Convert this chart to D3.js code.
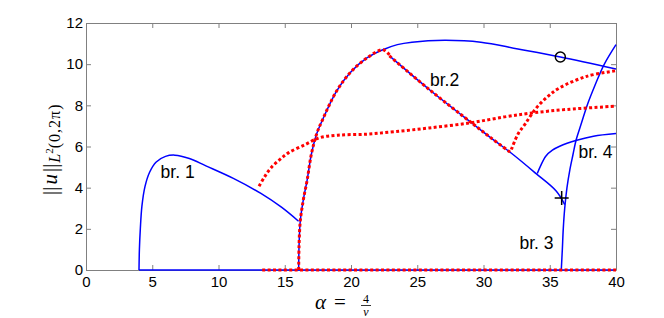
<!DOCTYPE html>
<html>
<head>
<meta charset="utf-8">
<script src="https://cdn.jsdelivr.net/npm/d3@7"></script>
<style>
  body { margin: 0; background: #fff; }
  .graph__axis path, .graph__axis line { stroke: #808080; }
  .graph__axis text { font-family: 'Liberation Sans', Arial, sans-serif; font-size: 15px; fill: #000; }
  .graph__name { font-family: 'Liberation Sans', Arial, sans-serif; font-size: 17.5px; fill: #000; }
  .graph__math { font-family: 'Liberation Serif', 'Times New Roman', serif; fill: #000; }
</style>
</head>
<body>
<div id="graph"></div>
<script>
// axis ticks
const alphaTicks = [0, 5, 10, 15, 20, 25, 30, 35, 40];
const normTicks = [0, 2, 4, 6, 8, 10, 12];

// branches, [alpha, ||u||]
const trivialBlue = [[4, 0], [40, 0]];
const trivialRed = [[13.3, 0], [40, 0]];
const branch1 = [[4.0, 0], [4.03, 1], [4.1, 2], [4.22, 3.1], [4.45, 4.05], [4.8, 4.75], [5.3, 5.25],
  [6.0, 5.52], [6.71, 5.58], [7.8, 5.42], [9.05, 5.06], [11.12, 4.45], [13.2, 3.72], [14.75, 3.05], [16.04, 2.37]];
const branch1Red = [[13.06, 4.07], [13.5, 4.55], [13.97, 4.97], [14.6, 5.35], [15.27, 5.69], [16.56, 6.1],
  [17.6, 6.42], [19.0, 6.55], [21.2, 6.6], [23.3, 6.72], [25.9, 6.9], [29.0, 7.15], [31.6, 7.44],
  [33.67, 7.63], [36.3, 7.8], [40, 7.96]];
const mainArc = [[16.05, 0], [16.08, 1.2], [16.17, 2.37], [16.4, 3.4], [16.7, 4.4], [17.0, 5.6], [17.4, 6.6],
  [17.86, 7.31], [18.9, 8.68], [19.93, 9.58], [21.2, 10.3], [22.4, 10.7], [23.5, 10.95], [24.6, 11.07],
  [27.06, 11.16], [29.8, 11.07], [32.6, 10.74], [35.8, 10.35], [40, 9.77]];
const mainArcRed = [[16.05, 0], [16.08, 1.2], [16.17, 2.37], [16.4, 3.4], [16.7, 4.4], [17.0, 5.6], [17.4, 6.6],
  [17.86, 7.31], [18.9, 8.68], [19.93, 9.58], [21.2, 10.3], [22.4, 10.7], [22.9, 10.45]];
const branch2 = [[22.9, 10.4], [25.9, 8.77], [29.26, 7.07], [30.56, 6.42], [32.25, 5.6], [33.9, 4.72],
  [35.5, 3.83], [36.13, 3.18]];
const branch2Red = [[22.9, 10.4], [25.9, 8.77], [29.26, 7.07], [30.56, 6.42], [32.1, 5.68]];
const branch2RedUp = [[32.1, 5.85], [32.6, 6.6], [33.15, 7.1], [33.9, 7.8], [34.8, 8.4], [35.75, 8.85],
  [37.8, 9.41], [40, 9.68]];
const branch3 = [[35.87, 0], [35.95, 1], [36.02, 2], [36.13, 3], [36.3, 4], [36.52, 4.88], [36.75, 5.6],
  [37.0, 6.34], [37.4, 7.15], [37.8, 7.96], [38.4, 8.95], [39.1, 9.98], [40, 10.95]];
const branch4 = [[34.06, 4.69], [34.3, 5.05], [34.7, 5.53], [35.2, 5.82], [35.75, 6.01], [37.04, 6.3],
  [38.3, 6.5], [40, 6.63]];

// markers and branch names
const circleMark = [35.8, 10.35];
const plusMark = [35.9, 3.5];
const branchNames = ['br. 1', 'br.2', 'br. 3', 'br. 4'];
const branchNameAt = [[5.63, 4.45], [25.96, 8.93], [32.71, 1.04], [37.17, 5.45]];

function visualize() {
  const margins = { top: 23, right: 48, bottom: 48, left: 86 };
  const canvasWidth = 664;
  const canvasHeight = 318;
  const width = canvasWidth - margins.left - margins.right;
  const height = canvasHeight - margins.top - margins.bottom;

  const svg = d3.select('#graph')
    .append('svg')
      .attr('width', canvasWidth)
      .attr('height', canvasHeight)
      .style('display', 'block');

  const graph = svg.append('g')
    .attr('transform', `translate(${margins.left}, ${margins.top})`);

  const scaleX = d3.scaleLinear().domain([0, 40]).range([0, width]);
  const scaleY = d3.scaleLinear().domain([0, 12]).range([height, 0]);

  // box with inward ticks on all four sides
  graph.append('g')
    .attr('class', 'graph__axis')
    .attr('transform', `translate(0, ${height})`)
    .call(d3.axisBottom(scaleX).tickValues(alphaTicks).tickSizeInner(-5).tickSizeOuter(0).tickPadding(6));
  graph.append('g')
    .attr('class', 'graph__axis')
    .call(d3.axisTop(scaleX).tickValues(alphaTicks).tickSizeInner(-5).tickSizeOuter(0).tickFormat(''));
  graph.append('g')
    .attr('class', 'graph__axis')
    .call(d3.axisLeft(scaleY).tickValues(normTicks).tickSizeInner(-5).tickSizeOuter(0).tickPadding(3));
  graph.append('g')
    .attr('class', 'graph__axis')
    .attr('transform', `translate(${width}, 0)`)
    .call(d3.axisRight(scaleY).tickValues(normTicks).tickSizeInner(-5).tickSizeOuter(0).tickFormat(''));

  const line = d3.line()
    .x(d => scaleX(d[0]))
    .y(d => scaleY(d[1]))
    .curve(d3.curveCatmullRom.alpha(0.5));

  // solid blue branches
  [trivialBlue, branch1, mainArc, branch2, branch3, branch4].forEach(pts => {
    graph.append('path')
      .attr('d', line(pts))
      .attr('fill', 'none')
      .attr('stroke', '#0000ff')
      .attr('stroke-width', 1.5);
  });

  // red dotted branches on top
  [trivialRed, branch1Red, mainArcRed, branch2Red, branch2RedUp].forEach(pts => {
    graph.append('path')
      .attr('d', line(pts))
      .attr('fill', 'none')
      .attr('stroke', '#ff0000')
      .attr('stroke-width', 3)
      .attr('stroke-dasharray', '3,2.4');
  });

  // markers
  graph.append('circle')
    .attr('cx', scaleX(circleMark[0]))
    .attr('cy', scaleY(circleMark[1]))
    .attr('r', 5)
    .attr('fill', 'none')
    .attr('stroke', '#000')
    .attr('stroke-width', 1.5);
  const px = scaleX(plusMark[0]);
  const py = scaleY(plusMark[1]);
  graph.append('path')
    .attr('d', `M${px - 7},${py}H${px + 7}M${px},${py - 7}V${py + 7}`)
    .attr('stroke', '#000')
    .attr('stroke-width', 1.5);

  graph.selectAll('.graph__name')
    .data(branchNames)
    .enter()
    .append('text')
      .attr('class', 'graph__name')
      .attr('x', (d, i) => scaleX(branchNameAt[i][0]))
      .attr('y', (d, i) => scaleY(branchNameAt[i][1]))
      .text(d => d);

  // x label: alpha = 4 / nu
  const xl = svg.append('g').attr('class', 'graph__math');
  xl.append('text')
    .attr('x', 315).attr('y', 309)
    .style('font-size', '21px').style('font-style', 'italic')
    .text('α');
  xl.append('text')
    .attr('x', 334).attr('y', 309)
    .style('font-size', '21px')
    .text('=');
  xl.append('text')
    .attr('x', 366).attr('y', 302.5)
    .attr('text-anchor', 'middle')
    .style('font-size', '12px')
    .text('4');
  xl.append('line')
    .attr('x1', 361).attr('x2', 371).attr('y1', 305.5).attr('y2', 305.5)
    .attr('stroke', '#000').attr('stroke-width', 0.8);
  xl.append('text')
    .attr('x', 366).attr('y', 316)
    .attr('text-anchor', 'middle')
    .style('font-size', '12px').style('font-style', 'italic')
    .text('ν');

  // y label: ||u||_{L^2(0,2pi)}
  const yl = svg.append('text')
    .attr('class', 'graph__math')
    .attr('transform', 'translate(57, 195) rotate(-90)')
    .style('font-size', '21px');
  yl.append('tspan').text('||');
  yl.append('tspan').attr('dx', 2).style('font-style', 'italic').text('u');
  yl.append('tspan').attr('dx', 2).text('||');
  yl.append('tspan').attr('dx', 1).attr('dy', 3).style('font-size', '16px').style('font-style', 'italic').text('L');
  yl.append('tspan').attr('dy', -7).style('font-size', '11px').text('2');
  yl.append('tspan').attr('dy', 7).style('font-size', '16px').style('letter-spacing', '1px').text('(0,2π)');
}

visualize();
</script>
</body>
</html>
